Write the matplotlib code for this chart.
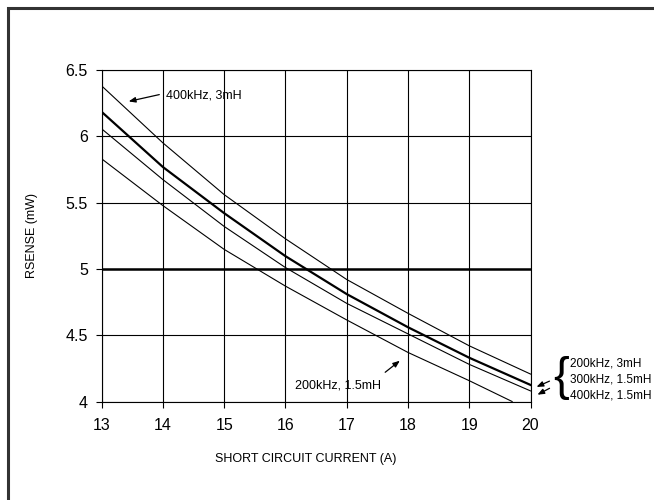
import matplotlib
matplotlib.use("Agg")
import matplotlib.pyplot as plt
from matplotlib.patches import Rectangle, FancyArrowPatch

plt.rcParams['font.family'] = ['Liberation Sans', 'DejaVu Sans']

W, H = 654, 500

# Data
current = [13, 14, 15, 16, 17, 18, 19, 20]
r_400k_3mH = [6.38, 5.95, 5.56, 5.227, 4.92, 4.665, 4.42, 4.207]
r_200k_3mH = [6.184, 5.768, 5.42, 5.096, 4.81, 4.56, 4.33, 4.125]
r_400k_15mH = [6.056, 5.673, 5.32, 5.01, 4.74, 4.51, 4.28, 4.08]
current_200k_15mH = [13, 14, 15, 16, 17, 18, 19, 19.7]
r_200k_15mH = [5.83, 5.477, 5.147, 4.87, 4.615, 4.37, 4.157, 4.0]
ref_level = 5.0

x_ticks = [13, 14, 15, 16, 17, 18, 19, 20]
y_ticks = [4, 4.5, 5, 5.5, 6, 6.5]
y_tick_labels = ["4", "4.5", "5", "5.5", "6", "6.5"]

fig = plt.figure(figsize=(W / 100, H / 100), dpi=100)

def fx(px):
    return px / W

def fy(py):
    return 1 - py / H

left, right, top, bottom = 101.7, 530.5, 70, 401.5
ax = fig.add_axes([fx(left), fy(bottom), fx(right) - fx(left), fy(top) - fy(bottom)])

ax.plot(current, r_400k_3mH, color='black', lw=0.8)
ax.plot(current, r_200k_3mH, color='black', lw=1.6)
ax.plot(current, r_400k_15mH, color='black', lw=0.8)
ax.plot(current_200k_15mH, r_200k_15mH, color='black', lw=0.8)
ax.axhline(ref_level, color='black', lw=1.8, zorder=3)

ax.set_xlim(13, 20)
ax.set_ylim(4, 6.5)
ax.set_xticks(x_ticks)
ax.set_yticks(y_ticks)
ax.set_yticklabels(y_tick_labels)
ax.grid(True, color='black', lw=0.8)
ax.set_axisbelow(True)
for s in ax.spines.values():
    s.set_linewidth(0.8)
ax.tick_params(axis='x', direction='out', length=4, width=0.8, labelsize=11.5, pad=8, colors='black')
ax.tick_params(axis='y', direction='out', length=4, width=0.8, labelsize=11.5, pad=6, colors='black')

fig.text(fx(306), fy(459), "SHORT CIRCUIT CURRENT (A)", ha='center', va='center', fontsize=9)
fig.text(fx(32), fy(235), "RSENSE (mW)", ha='center', va='center', rotation=90, fontsize=9)

arrow_style = '-|>,head_length=4,head_width=1.6'

# Annotations
fig.text(fx(166), fy(96), "400kHz, 3mH", ha='left', va='center', fontsize=9)
fig.patches.append(FancyArrowPatch((fx(162), fy(94)), (fx(126), fy(102)), transform=fig.transFigure,
                                   arrowstyle=arrow_style, color='black', lw=0.9))
fig.text(fx(295), fy(386), "200kHz, 1.5mH", ha='left', va='center', fontsize=9)
fig.patches.append(FancyArrowPatch((fx(383), fy(374)), (fx(402), fy(359)), transform=fig.transFigure,
                                   arrowstyle=arrow_style, color='black', lw=0.9))

for txt, yy in [("200kHz, 3mH", 363), ("300kHz, 1.5mH", 379.5), ("400kHz, 1.5mH", 396)]:
    fig.text(fx(570), fy(yy), txt, ha='left', va='center', fontsize=8.5)
fig.text(fx(561), fy(378), "{", ha='center', va='center', fontsize=34, fontweight='light')
fig.patches.append(FancyArrowPatch((fx(552), fy(380)), (fx(534), fy(388)), transform=fig.transFigure,
                                   arrowstyle=arrow_style, color='black', lw=0.9))
fig.patches.append(FancyArrowPatch((fx(552), fy(387)), (fx(535), fy(396)), transform=fig.transFigure,
                                   arrowstyle=arrow_style, color='black', lw=0.9))

# Outer frame (clipped at right and bottom like the reference)
fig.patches.append(Rectangle((fx(8), fy(520)), fx(680) - fx(8), fy(8) - fy(520), transform=fig.transFigure,
                             fill=False, edgecolor='#333333', lw=2.2))

fig.savefig("out.png", dpi=100)
